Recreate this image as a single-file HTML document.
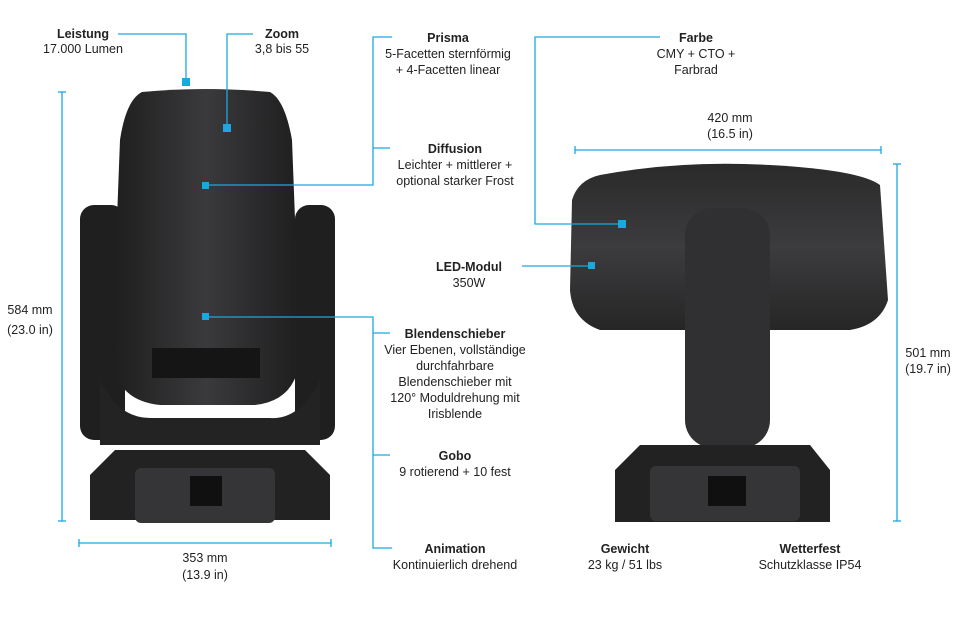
<!DOCTYPE html>
<html><head><meta charset="utf-8"><style>
body{margin:0;background:#fff}
svg{display:block}
text{font-family:"Liberation Sans",sans-serif;font-size:12.5px;fill:#222}
.b{font-weight:bold}
</style></head><body>
<svg width="960" height="620" viewBox="0 0 960 620">
<defs>
<linearGradient id="g1" x1="0" x2="1"><stop offset="0" stop-color="#1e1e1f"/><stop offset=".5" stop-color="#3a3a3c"/><stop offset="1" stop-color="#1e1e1f"/></linearGradient>
<linearGradient id="g2" x1="0" y1="0" x2="0" y2="1"><stop offset="0" stop-color="#2a2a2b"/><stop offset=".5" stop-color="#3c3c3e"/><stop offset="1" stop-color="#262627"/></linearGradient>
</defs>
<!-- left fixture -->
<rect x="80" y="205" width="45" height="235" rx="14" fill="#1f1f20"/>
<rect x="295" y="205" width="40" height="235" rx="14" fill="#1f1f20"/>
<path d="M100 380 L100 445 L320 445 L320 380 Q300 420 270 418 L150 418 Q118 418 100 380Z" fill="#232324"/>
<path d="M142 92 Q205 86 270 92 Q285 100 292 140 L300 350 Q300 400 255 405 L160 405 Q112 400 112 350 L120 140 Q126 100 142 92Z" fill="url(#g1)"/>
<rect x="152" y="348" width="108" height="30" fill="#151515"/>
<path d="M115 450 L305 450 L330 475 L330 520 L90 520 L90 475Z" fill="#222223"/>
<rect x="135" y="468" width="140" height="55" rx="6" fill="#353537"/>
<rect x="190" y="476" width="32" height="30" fill="#101010"/>
<!-- right fixture -->
<path d="M600 175 Q680 160 770 165 Q860 170 880 185 L888 300 Q880 325 850 330 L600 330 Q572 320 570 290 L572 200 Q578 180 600 175Z" fill="url(#g2)"/>
<rect x="685" y="208" width="85" height="240" rx="28" fill="#303032"/>
<path d="M640 445 L810 445 L830 470 L830 522 L615 522 L615 470Z" fill="#222223"/>
<rect x="650" y="466" width="150" height="55" rx="6" fill="#353537"/>
<rect x="708" y="476" width="38" height="30" fill="#101010"/>
<!-- connectors -->
<g stroke="#1aa8e0" stroke-width="1.3" fill="none">
<polyline points="118,34 186,34 186,80"/>
<polyline points="253,34 227,34 227,126"/>
<polyline points="392,37 373,37 373,185 205,185"/>
<line x1="373" y1="148" x2="390" y2="148"/>
<polyline points="205,317 373,317 373,548 392,548"/>
<line x1="373" y1="333" x2="390" y2="333"/>
<line x1="373" y1="455" x2="390" y2="455"/>
<polyline points="660,37 535,37 535,224 622,224"/>
<line x1="522" y1="266" x2="592" y2="266"/>
<line x1="62" y1="92" x2="62" y2="521"/><line x1="58" y1="92" x2="66" y2="92"/><line x1="58" y1="521" x2="66" y2="521"/>
<line x1="79" y1="543" x2="331" y2="543"/><line x1="79" y1="539" x2="79" y2="547"/><line x1="331" y1="539" x2="331" y2="547"/>
<line x1="575" y1="150" x2="881" y2="150"/><line x1="575" y1="146" x2="575" y2="154"/><line x1="881" y1="146" x2="881" y2="154"/>
<line x1="897" y1="164" x2="897" y2="521"/><line x1="893" y1="164" x2="901" y2="164"/><line x1="893" y1="521" x2="901" y2="521"/>
</g>
<g fill="#1aa8e0">
<rect x="182" y="78" width="8" height="8"/><rect x="223" y="124" width="8" height="8"/><rect x="202" y="182" width="7" height="7"/>
<rect x="202" y="313" width="7" height="7"/><rect x="618" y="220" width="8" height="8"/><rect x="588" y="262" width="7" height="7"/>
</g>
<g text-anchor="middle">
<text x="83" y="38" class="b">Leistung</text><text x="83" y="53">17.000 Lumen</text>
<text x="282" y="38" class="b">Zoom</text><text x="282" y="53">3,8 bis 55</text>
<text x="448" y="42" class="b">Prisma</text><text x="448" y="58">5-Facetten sternförmig</text><text x="448" y="74">+ 4-Facetten linear</text>
<text x="455" y="153" class="b">Diffusion</text><text x="455" y="169">Leichter + mittlerer +</text><text x="455" y="185">optional starker Frost</text>
<text x="455" y="338" class="b">Blendenschieber</text><text x="455" y="354">Vier Ebenen, vollständige</text><text x="455" y="370">durchfahrbare</text><text x="455" y="386">Blendenschieber mit</text><text x="455" y="402">120° Moduldrehung mit</text><text x="455" y="418">Irisblende</text>
<text x="455" y="460" class="b">Gobo</text><text x="455" y="476">9 rotierend + 10 fest</text>
<text x="455" y="553" class="b">Animation</text><text x="455" y="569">Kontinuierlich drehend</text>
<text x="696" y="42" class="b">Farbe</text><text x="696" y="58">CMY + CTO +</text><text x="696" y="74">Farbrad</text>
<text x="469" y="271" class="b">LED-Modul</text><text x="469" y="287">350W</text>
<text x="730" y="122">420 mm</text><text x="730" y="138">(16.5 in)</text>
<text x="30" y="314">584 mm</text><text x="30" y="334">(23.0 in)</text>
<text x="205" y="562">353 mm</text><text x="205" y="579">(13.9 in)</text>
<text x="928" y="357">501 mm</text><text x="928" y="373">(19.7 in)</text>
<text x="625" y="553" class="b">Gewicht</text><text x="625" y="569">23 kg / 51 lbs</text>
<text x="810" y="553" class="b">Wetterfest</text><text x="810" y="569">Schutzklasse IP54</text>
</g>
</svg>
</body></html>
